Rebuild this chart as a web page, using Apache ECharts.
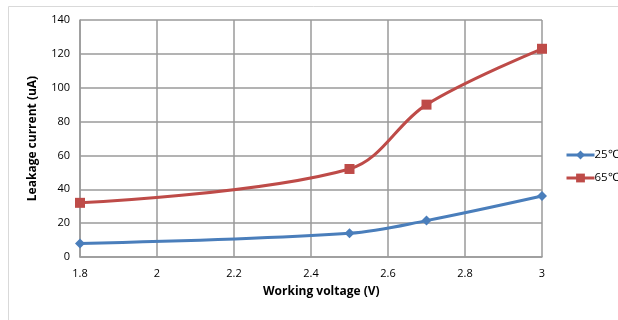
<!DOCTYPE html>
<html>
<head>
<meta charset="utf-8">
<script src="https://cdn.jsdelivr.net/npm/echarts@6/dist/echarts.min.js"></script>
<style>
  html, body { margin: 0; padding: 0; background: #fff; }
  #chart { width: 618px; height: 320px; }
</style>
</head>
<body>
<div id="chart"></div>
<script>
// Working voltage (V) sample points
const voltages = [1.8, 2.5, 2.7, 3];
// Leakage current (uA) at each temperature
const leak25 = [8, 14, 21.5, 36];
const leak65 = [32, 52, 90, 123];
const seriesNames = ['25℃', '65℃'];
const xTicks = { min: 1.8, max: 3, interval: 0.2 };
const yTicks = { min: 0, max: 140, interval: 20 };

const pairs = (xs, ys) => xs.map((x, i) => [x, ys[i]]);
const font = '"Open Sans", "Liberation Sans", sans-serif';

const chart = echarts.init(document.getElementById('chart'), null, { renderer: 'canvas' });
chart.setOption({
  animation: false,
  backgroundColor: '#fff',
  grid: { left: 80, right: 76, top: 20, bottom: 63, containLabel: false },
  graphic: [
    {
      type: 'rect', shape: { x: 8.5, y: 6.5, width: 640, height: 340 },
      style: { fill: 'none', stroke: '#d9d9d9', lineWidth: 1 }, silent: true
    },
    {
      type: 'text', left: 263, top: 286,
      style: { text: 'Working voltage (V)', font: 'bold 12px ' + font, fill: '#000', textAlign: 'center' }
    }
  ],
  legend: {
    orient: 'vertical', left: 560, top: 144, itemGap: 11,
    itemWidth: 28, itemHeight: 11,
    lineStyle: { width: 3 },
    textStyle: { fontFamily: font, fontSize: 11.5, color: '#000', padding: [0, 0, 0, -5] },
    data: seriesNames
  },
  xAxis: {
    type: 'value', min: xTicks.min, max: xTicks.max, interval: xTicks.interval,
    axisLine: { show: true, lineStyle: { color: '#9a9a9a', width: 1.5 } },
    axisTick: { show: false },
    splitLine: { show: true, lineStyle: { color: '#9a9a9a', width: 1.5 } },
    axisLabel: {
      fontFamily: font, fontSize: 11, color: '#000', margin: 11,
      formatter: v => String(Math.round(v * 10) / 10)
    }
  },
  yAxis: {
    type: 'value', min: yTicks.min, max: yTicks.max, interval: yTicks.interval,
    name: 'Leakage current (uA)', nameLocation: 'middle', nameGap: 41,
    nameTextStyle: { fontFamily: font, fontSize: 12, fontWeight: 'bold', color: '#000' },
    axisLine: { show: true, lineStyle: { color: '#9a9a9a', width: 1.5 } },
    axisTick: { show: false },
    splitLine: { show: true, lineStyle: { color: '#9a9a9a', width: 1.5 } },
    axisLabel: { fontFamily: font, fontSize: 11, color: '#000', margin: 10 }
  },
  series: [
    {
      name: seriesNames[0], type: 'line', smooth: 0.35,
      data: pairs(voltages, leak25),
      symbol: 'diamond', symbolSize: 10,
      lineStyle: { color: '#4a7ebb', width: 3 },
      itemStyle: { color: '#4a7ebb' }
    },
    {
      name: seriesNames[1], type: 'line', smooth: 0.35,
      data: pairs(voltages, leak65),
      symbol: 'rect', symbolSize: 10,
      lineStyle: { color: '#be4b48', width: 3 },
      itemStyle: { color: '#be4b48' }
    }
  ]
});
</script>
</body>
</html>
